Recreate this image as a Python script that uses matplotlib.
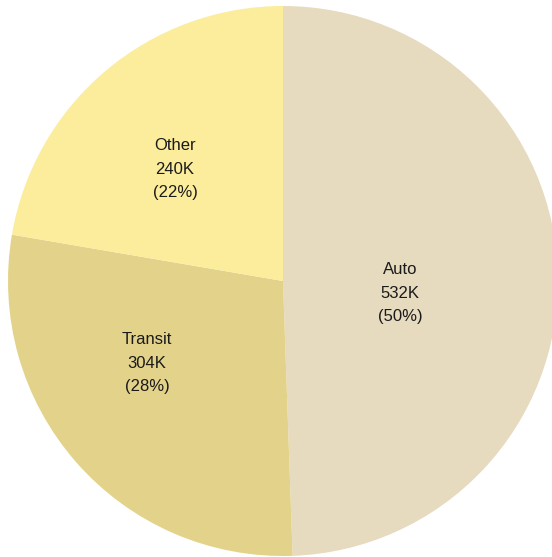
import matplotlib.pyplot as plt

plt.rcParams['font.family'] = ['Liberation Sans', 'DejaVu Sans']

modes = ['Auto', 'Transit', 'Other']
trips = [532, 304, 240]
value_labels = ['532K', '304K', '240K']
pct_labels = ['(50%)', '(28%)', '(22%)']
colors = ['#E6DABF', '#E3D38A', '#FBED9B']

fig = plt.figure(figsize=(5.52, 5.57), dpi=100)
ax = fig.add_axes([0, 0, 1, 1])

r = 275.0
cx, cy = 283.0, 557 - 281.0
ax.pie(trips, colors=colors, startangle=90, counterclock=False,
       radius=r, center=(cx, cy), frame=True,
       wedgeprops=dict(linewidth=0))

# label block centres (pixel coords)
label_pos = [(400, 557 - 293), (147, 557 - 363), (175, 557 - 169)]
for name, val, pct, (x, y) in zip(modes, value_labels, pct_labels, label_pos):
    ax.text(x, y, f'{name}\n{val}\n{pct}', ha='center', va='center',
            fontsize=12, color='#1a1a1a', linespacing=1.75)

ax.set_xlim(0, 552)
ax.set_ylim(0, 557)
ax.set_aspect('auto')
ax.axis('off')

fig.savefig('out.png', dpi=100)
